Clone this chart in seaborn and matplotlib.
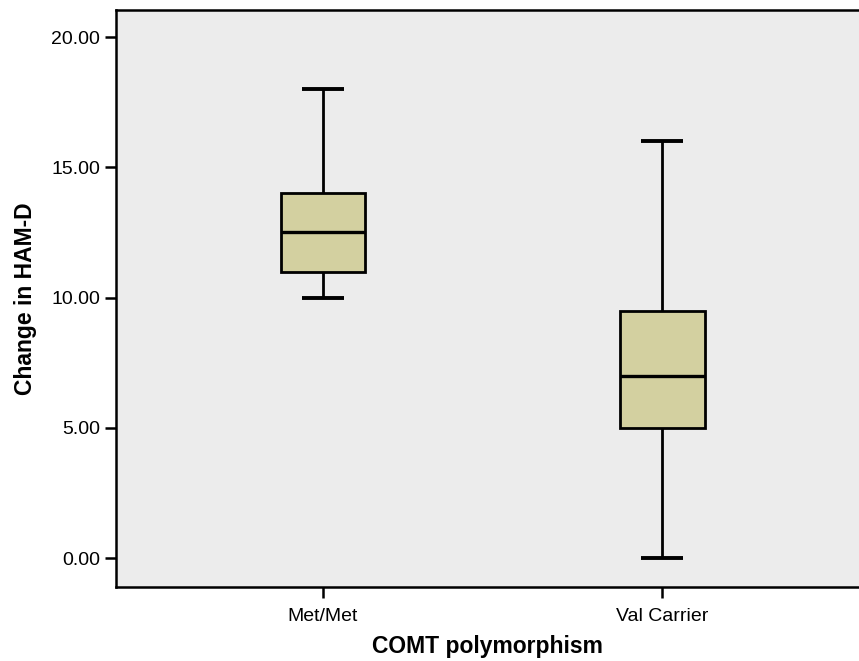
import numpy as np
import pandas as pd
import matplotlib
matplotlib.use("Agg")
import matplotlib.pyplot as plt
import seaborn as sns

# Change in HAM-D score per COMT genotype group
groups = ["Met/Met", "Val Carrier"]
met_met = [10, 11, 11, 12, 13, 14, 14, 18]
val_carrier = [0, 3, 5, 6, 7, 8, 9.5, 12, 16]
y_ticks = [0, 5, 10, 15, 20]

df = pd.DataFrame({
    "COMT polymorphism": [groups[0]] * len(met_met) + [groups[1]] * len(val_carrier),
    "Change in HAM-D": met_met + val_carrier,
})

sns.set_style("ticks")
plt.rcParams["font.family"] = ["Liberation Sans", "DejaVu Sans"]

fig = plt.figure(figsize=(8.59, 6.61), dpi=100)
ax = fig.add_axes([116 / 859, 74 / 661, 743 / 859, 577 / 661])
ax.set_facecolor("#ececec")

sns.boxplot(
    data=df, x="COMT polymorphism", y="Change in HAM-D", order=groups,
    color="#d3d0a0", saturation=1, width=0.25, whis=(0, 100),
    linecolor="black", linewidth=2.0, fliersize=0,
    medianprops={"linewidth": 2.4, "color": "black"},
    whiskerprops={"linewidth": 2.0, "color": "black"},
    capprops={"linewidth": 2.8, "color": "black", "solid_capstyle": "butt"},
    ax=ax,
)

ax.set_xlim(-0.61, 1.58)
ax.set_ylim(-1.11, 21.04)
ax.set_yticks(y_ticks)
ax.set_yticklabels([f"{v:.2f}" for v in y_ticks])

for side in ["left", "bottom", "top"]:
    ax.spines[side].set_color("black")
    ax.spines[side].set_linewidth(1.8)
ax.spines["right"].set_visible(False)

ax.tick_params(axis="both", length=8, width=1.8, color="black",
               labelsize=14, labelcolor="black")
ax.tick_params(axis="x", pad=7)
ax.set_xlabel("COMT polymorphism", fontsize=16.5, fontweight="bold",
              labelpad=7, color="black")
ax.set_ylabel("Change in HAM-D", fontsize=16.5, fontweight="bold",
              labelpad=10, color="black")

fig.savefig("out.png", dpi=100)
